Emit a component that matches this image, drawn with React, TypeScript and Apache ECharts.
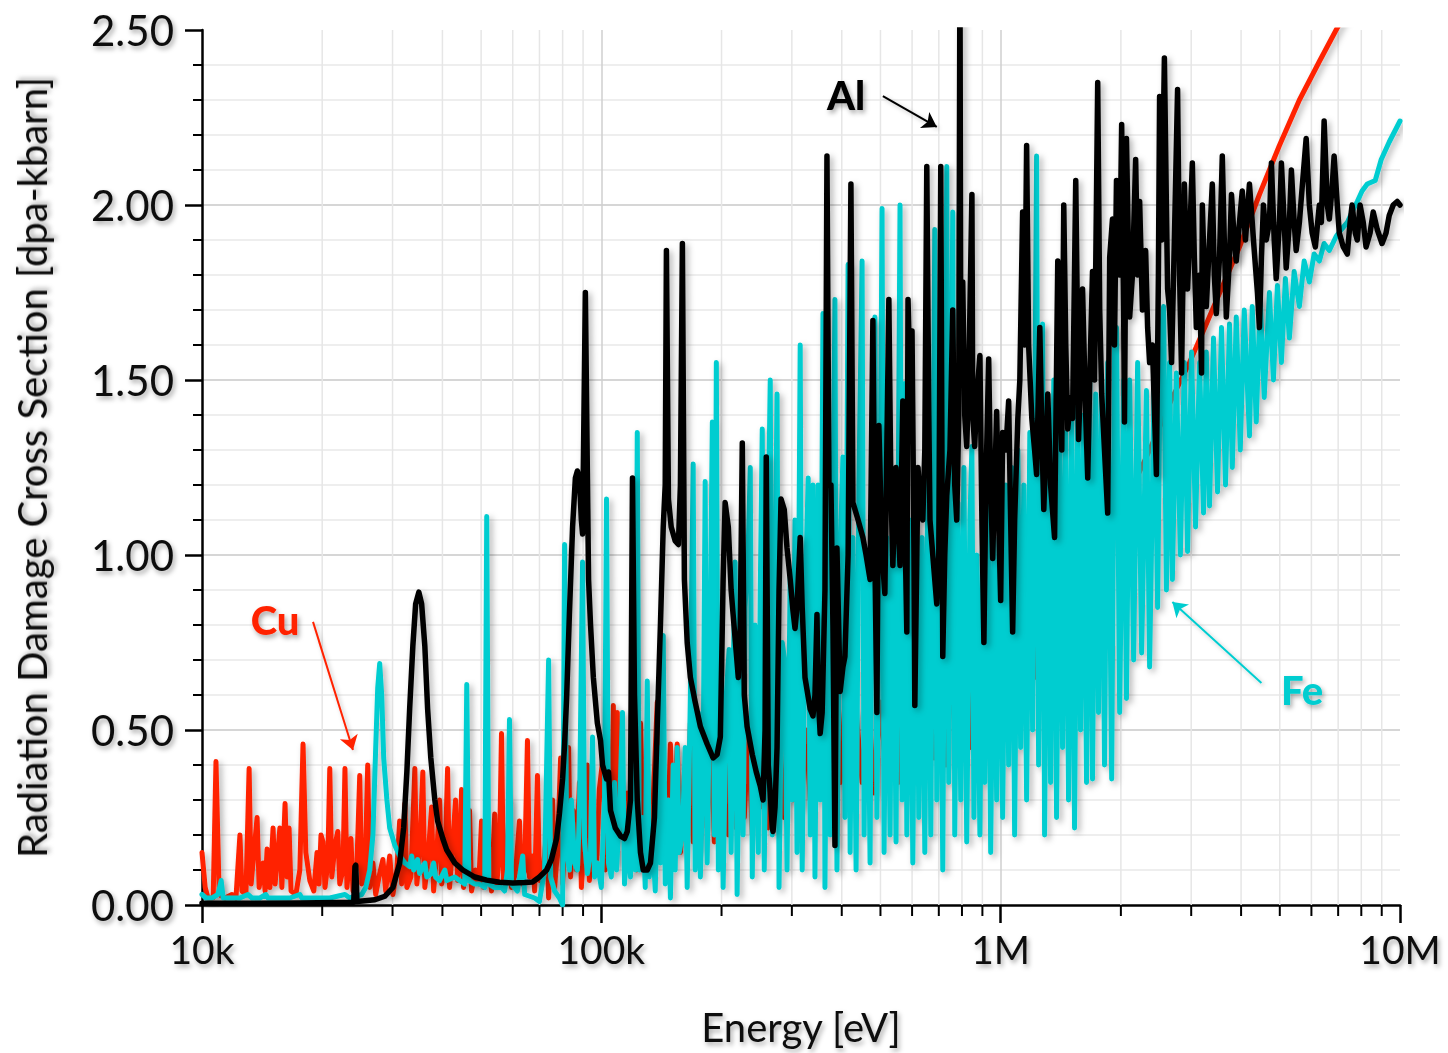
import React, { useEffect, useRef } from "react";
import * as echarts from "echarts";

// Energies are stored as log10(E / eV); values are in dpa-kbarn.
const CU: number[][] = [
  [4.000,0.15],[4.008,0.05],[4.015,0.02],[4.028,0.02],[4.035,0.41],[4.043,0.03],[4.058,0.02],[4.075,0.03],[4.085,0.02],[4.095,0.20],
  [4.100,0.04],[4.110,0.03],[4.118,0.39],[4.123,0.06],[4.130,0.15],[4.138,0.25],[4.143,0.05],[4.153,0.12],[4.158,0.04],[4.163,0.16],
  [4.170,0.05],[4.178,0.22],[4.183,0.06],[4.190,0.15],[4.195,0.22],[4.200,0.05],[4.208,0.29],[4.213,0.08],[4.218,0.22],[4.223,0.04],
  [4.235,0.03],[4.245,0.10],[4.253,0.46],[4.260,0.15],[4.270,0.07],[4.280,0.04],[4.288,0.15],[4.293,0.06],[4.298,0.20],[4.303,0.18],
  [4.308,0.05],[4.315,0.12],[4.320,0.39],[4.325,0.08],[4.333,0.17],[4.340,0.21],[4.345,0.06],[4.353,0.10],[4.358,0.39],[4.363,0.05],
  [4.373,0.19],[4.378,0.04],[4.388,0.12],[4.395,0.37],[4.400,0.06],[4.408,0.08],[4.415,0.40],[4.420,0.05],[4.428,0.12],[4.435,0.03],
  [4.445,0.09],[4.453,0.13],[4.460,0.04],[4.470,0.14],[4.478,0.03],[4.488,0.10],[4.495,0.24],[4.500,0.06],[4.508,0.29],[4.513,0.05],
  [4.523,0.08],[4.533,0.39],[4.538,0.06],[4.545,0.15],[4.553,0.38],[4.558,0.05],[4.565,0.12],[4.575,0.28],[4.580,0.04],[4.588,0.15],
  [4.595,0.30],[4.600,0.06],[4.608,0.10],[4.615,0.39],[4.620,0.05],[4.628,0.18],[4.635,0.30],[4.640,0.07],[4.645,0.12],[4.650,0.33],
  [4.655,0.05],[4.663,0.14],[4.670,0.27],[4.675,0.04],[4.685,0.10],[4.693,0.06],[4.700,0.24],[4.705,0.05],[4.713,0.08],[4.720,0.13],
  [4.725,0.04],[4.733,0.26],[4.738,0.06],[4.745,0.15],[4.750,0.49],[4.755,0.07],[4.763,0.12],[4.770,0.30],[4.775,0.05],[4.785,0.09],
  [4.795,0.24],[4.800,0.06],[4.808,0.10],[4.815,0.47],[4.820,0.08],[4.828,0.14],[4.833,0.04],[4.840,0.37],[4.845,0.07],[4.855,0.10],
  [4.863,0.22],[4.868,0.02],[4.878,0.30],[4.883,0.05],[4.890,0.15],[4.898,0.42],[4.903,0.06],[4.910,0.19],[4.918,0.45],[4.923,0.08],
  [4.930,0.27],[4.938,0.10],[4.945,0.35],[4.950,0.05],[4.958,0.20],[4.965,0.40],[4.970,0.07],[4.980,0.25],[4.988,0.11],[4.995,0.33],
  [5.005,0.43],[5.010,0.10],[5.018,0.30],[5.023,0.15],[5.030,0.57],[5.035,0.12],[5.040,0.55],[5.045,0.20],[5.053,0.35],[5.060,0.12],
  [5.065,0.32],[5.073,0.18],[5.080,0.45],[5.088,0.10],[5.098,0.52],[5.105,0.15],[5.113,0.38],[5.120,0.12],[5.130,0.30],[5.140,0.58],
  [5.148,0.20],[5.158,0.35],[5.165,0.14],[5.173,0.46],[5.180,0.20],[5.190,0.46],[5.198,0.15],[5.208,0.38],[5.215,0.20],[5.223,0.52],
  [5.230,0.18],[5.240,0.40],[5.248,0.16],[5.258,0.45],[5.265,0.22],[5.275,0.50],[5.283,0.18],[5.293,0.60],[5.300,0.25],[5.310,0.42],
  [5.318,0.20],[5.330,0.54],[5.338,0.22],[5.348,0.45],[5.358,0.25],[5.368,0.50],[5.378,0.20],[5.388,0.55],[5.398,0.28],[5.408,0.48],
  [5.418,0.22],[5.428,0.52],[5.438,0.30],[5.448,0.45],[5.458,0.25],[5.470,0.55],[5.480,0.30],[5.490,0.63],[5.500,0.28],[5.513,0.50],
  [5.523,0.30],[5.535,0.55],[5.548,0.32],[5.560,0.50],[5.573,0.25],[5.585,0.55],[5.598,0.35],[5.610,0.58],[5.623,0.30],[5.638,0.55],
  [5.653,0.35],[5.668,0.60],[5.683,0.32],[5.698,0.58],[5.713,0.38],[5.728,0.62],[5.743,0.35],[5.758,0.60],[5.773,0.40],[5.788,0.65],
  [5.803,0.38],[5.818,0.62],[5.833,0.42],[5.848,0.66],[5.863,0.40],[5.878,0.68],[5.893,0.45],[5.908,0.70],[5.923,0.45],[5.938,0.78],
  [5.948,0.62],[5.958,0.80],[5.968,0.55],[5.980,0.72],[5.993,0.50],[6.008,0.74],[6.023,0.55],[6.038,0.77],[6.053,0.60],[6.068,0.80],
  [6.085,0.65],[6.103,0.85],[6.123,0.75],[6.148,0.88],[6.173,0.85],[6.198,0.95],[6.223,0.92],[6.248,1.00],[6.273,1.03],[6.298,1.08],
  [6.320,1.17],[6.373,1.30],[6.430,1.45],[6.473,1.55],[6.515,1.66],[6.560,1.78],[6.598,1.88],[6.648,2.03],[6.698,2.17],[6.748,2.30],
  [6.798,2.41],[6.840,2.50],[6.898,2.62],[7.000,2.85],
];

const FE: number[][] = [
  [4.000,0.03],[4.010,0.02],[4.025,0.02],[4.040,0.03],[4.048,0.07],[4.053,0.02],[4.070,0.02],[4.095,0.02],[4.115,0.03],[4.125,0.02],
  [4.145,0.02],[4.160,0.03],[4.165,0.02],[4.220,0.02],[4.245,0.03],[4.250,0.02],[4.320,0.02],[4.358,0.03],[4.370,0.02],[4.400,0.03],
  [4.410,0.05],[4.420,0.10],[4.428,0.20],[4.435,0.45],[4.440,0.62],[4.445,0.69],[4.450,0.60],[4.455,0.42],[4.463,0.30],[4.470,0.22],
  [4.483,0.17],[4.495,0.14],[4.508,0.12],[4.520,0.11],[4.525,0.14],[4.530,0.10],[4.540,0.13],[4.545,0.09],[4.558,0.12],[4.563,0.08],
  [4.575,0.09],[4.580,0.12],[4.585,0.08],[4.595,0.07],[4.608,0.10],[4.613,0.07],[4.633,0.08],[4.645,0.07],[4.658,0.06],[4.663,0.63],
  [4.668,0.07],[4.683,0.06],[4.695,0.06],[4.708,0.05],[4.713,1.11],[4.718,0.06],[4.733,0.05],[4.750,0.05],[4.758,0.04],[4.765,0.10],
  [4.770,0.53],[4.775,0.06],[4.790,0.04],[4.803,0.14],[4.808,0.03],[4.833,0.02],[4.845,0.01],[4.858,0.10],[4.868,0.70],[4.873,0.08],
  [4.883,0.04],[4.895,0.02],[4.903,0.00],[4.908,1.03],[4.913,0.15],[4.920,0.10],[4.925,0.30],[4.933,0.12],[4.940,0.10],[4.945,0.25],
  [4.953,0.98],[4.958,0.18],[4.965,0.09],[4.973,0.15],[4.978,0.48],[4.983,0.08],[4.990,0.12],[5.000,0.05],[5.008,0.30],[5.013,1.16],
  [5.018,0.12],[5.025,0.08],[5.033,0.35],[5.038,0.10],[5.045,0.25],[5.053,0.55],[5.058,0.06],[5.065,0.20],[5.073,0.08],[5.080,0.40],
  [5.085,0.10],[5.090,1.35],[5.095,0.10],[5.103,0.25],[5.110,0.05],[5.115,0.64],[5.120,0.08],[5.128,0.20],[5.135,0.04],[5.143,0.45],
  [5.148,0.12],[5.155,0.77],[5.160,0.06],[5.168,0.30],[5.173,0.02],[5.180,0.40],[5.185,0.10],[5.190,0.45],[5.195,0.15],[5.203,0.20],
  [5.210,0.45],[5.215,0.05],[5.223,0.60],[5.230,1.26],[5.235,0.10],[5.243,0.55],[5.248,0.08],[5.255,0.40],[5.260,1.21],[5.265,0.12],
  [5.270,0.50],[5.278,1.38],[5.283,0.20],[5.288,1.55],[5.293,0.10],[5.300,0.70],[5.305,0.05],[5.313,0.60],[5.320,0.73],[5.325,0.15],
  [5.330,0.65],[5.335,0.98],[5.340,0.03],[5.348,0.70],[5.355,0.20],[5.360,0.85],[5.368,1.03],[5.373,1.25],[5.378,0.08],[5.385,0.80],
  [5.393,0.15],[5.398,0.90],[5.403,1.36],[5.408,0.10],[5.415,0.85],[5.423,1.50],[5.428,0.20],[5.435,0.90],[5.440,1.46],[5.445,0.05],
  [5.453,0.75],[5.460,0.69],[5.465,0.10],[5.473,0.95],[5.478,0.30],[5.485,1.10],[5.490,0.15],[5.498,1.60],[5.503,0.10],[5.510,0.85],
  [5.518,1.22],[5.523,0.20],[5.530,1.20],[5.535,0.08],[5.543,1.20],[5.548,0.30],[5.555,1.69],[5.560,0.05],[5.568,1.20],[5.573,0.20],
  [5.580,1.10],[5.585,1.73],[5.590,0.10],[5.598,1.00],[5.605,1.28],[5.610,0.25],[5.618,1.83],[5.623,0.15],[5.630,1.05],[5.638,0.10],
  [5.645,1.20],[5.653,1.84],[5.658,0.20],[5.665,1.00],[5.673,0.12],[5.678,1.15],[5.685,1.68],[5.690,0.25],[5.698,1.10],[5.703,1.99],
  [5.708,0.15],[5.715,1.05],[5.723,0.20],[5.730,1.20],[5.738,0.18],[5.748,2.00],[5.753,0.30],[5.760,1.49],[5.765,0.20],[5.773,1.10],
  [5.780,0.12],[5.788,1.20],[5.795,0.25],[5.803,1.05],[5.810,0.15],[5.818,1.30],[5.825,0.20],[5.835,1.93],[5.840,0.30],[5.848,1.20],
  [5.855,0.10],[5.865,2.11],[5.870,0.35],[5.880,1.98],[5.885,0.20],[5.893,1.15],[5.900,0.30],[5.908,1.25],[5.915,0.18],[5.923,1.10],
  [5.928,1.31],[5.933,0.25],[5.940,1.00],[5.948,0.20],[5.955,1.10],[5.960,0.35],[5.968,1.20],[5.975,0.15],[5.983,1.05],[5.990,0.30],
  [5.998,1.15],[6.005,0.25],[6.013,1.20],[6.020,0.40],[6.028,1.25],[6.035,0.20],[6.043,1.30],[6.050,0.45],[6.058,1.20],[6.065,0.30],
  [6.073,1.35],[6.080,0.50],[6.090,2.14],[6.095,0.40],[6.105,1.66],[6.110,0.20],[6.118,1.40],[6.125,0.35],[6.133,1.50],[6.140,0.25],
  [6.148,1.40],[6.155,0.45],[6.163,1.35],[6.170,0.30],[6.178,1.40],[6.185,0.22],[6.193,1.45],[6.200,0.50],[6.208,1.40],[6.215,0.35],
  [6.223,1.50],[6.230,0.36],[6.238,1.46],[6.245,0.55],[6.253,1.50],[6.260,0.40],[6.268,1.55],[6.278,0.36],[6.285,1.60],[6.290,1.65],
  [6.298,0.55],[6.308,1.50],[6.315,0.59],[6.323,1.50],[6.333,0.70],[6.343,1.55],[6.353,0.72],[6.365,1.47],[6.373,0.68],[6.385,1.55],
  [6.393,0.85],[6.400,1.60],[6.408,1.71],[6.415,0.90],[6.423,1.55],[6.430,0.93],[6.440,1.52],[6.450,1.00],[6.460,1.55],[6.468,1.01],
  [6.478,1.58],[6.488,1.08],[6.498,1.55],[6.508,1.12],[6.515,1.58],[6.523,1.14],[6.533,1.62],[6.543,1.18],[6.553,1.65],[6.563,1.20],
  [6.573,1.66],[6.580,1.25],[6.590,1.68],[6.600,1.30],[6.610,1.70],[6.623,1.34],[6.630,1.71],[6.640,1.38],[6.650,1.73],[6.660,1.45],
  [6.673,1.75],[6.683,1.50],[6.693,1.77],[6.703,1.55],[6.713,1.79],[6.723,1.62],[6.735,1.81],[6.748,1.71],[6.760,1.84],[6.773,1.78],
  [6.785,1.86],[6.798,1.84],[6.810,1.89],[6.823,1.87],[6.840,1.91],[6.853,1.93],[6.868,1.95],[6.880,1.98],[6.893,2.01],[6.905,2.04],
  [6.918,2.06],[6.938,2.07],[6.953,2.13],[6.973,2.18],[7.000,2.24],
];

const AL: number[][] = [
  [4.000,0.005],[4.120,0.005],[4.245,0.006],[4.380,0.008],[4.383,0.11],[4.385,0.114],[4.388,0.01],[4.408,0.012],[4.433,0.015],[4.458,0.025],
  [4.478,0.05],[4.495,0.12],[4.505,0.22],[4.513,0.38],[4.520,0.56],[4.528,0.74],[4.535,0.86],[4.543,0.894],[4.550,0.86],[4.558,0.74],
  [4.565,0.56],[4.573,0.42],[4.583,0.30],[4.590,0.24],[4.603,0.19],[4.613,0.157],[4.633,0.12],[4.653,0.10],[4.683,0.08],[4.713,0.071],
  [4.745,0.065],[4.778,0.063],[4.808,0.064],[4.828,0.066],[4.845,0.08],[4.863,0.10],[4.875,0.13],[4.888,0.19],[4.895,0.26],[4.903,0.36],
  [4.908,0.46],[4.913,0.59],[4.920,0.83],[4.928,1.08],[4.935,1.22],[4.940,1.24],[4.945,1.22],[4.950,1.10],[4.953,1.06],[4.960,1.75],
  [4.968,0.93],[4.973,0.80],[4.980,0.65],[4.990,0.52],[4.998,0.47],[5.003,0.40],[5.013,0.36],[5.018,0.38],[5.023,0.27],[5.035,0.22],
  [5.048,0.197],[5.058,0.19],[5.065,0.21],[5.073,0.30],[5.078,1.22],[5.083,0.60],[5.090,0.30],[5.098,0.15],[5.105,0.10],[5.115,0.10],
  [5.123,0.12],[5.133,0.25],[5.140,0.51],[5.148,0.80],[5.155,1.08],[5.160,1.20],[5.163,1.87],[5.168,1.16],[5.175,1.08],[5.185,1.04],
  [5.193,1.03],[5.198,1.20],[5.203,1.89],[5.208,0.93],[5.215,0.75],[5.223,0.65],[5.235,0.58],[5.248,0.51],[5.265,0.46],[5.280,0.42],
  [5.290,0.43],[5.298,0.48],[5.305,0.93],[5.310,1.15],[5.318,1.08],[5.325,0.90],[5.330,0.83],[5.338,0.72],[5.343,0.65],[5.348,0.80],
  [5.353,1.32],[5.358,0.60],[5.365,0.51],[5.378,0.43],[5.388,0.38],[5.398,0.34],[5.405,0.30],[5.410,0.50],[5.413,1.28],[5.418,0.40],
  [5.423,0.32],[5.428,0.22],[5.430,0.21],[5.435,0.28],[5.440,0.45],[5.445,0.90],[5.450,1.16],[5.458,1.13],[5.465,1.02],[5.473,0.93],
  [5.480,0.84],[5.485,0.79],[5.490,0.85],[5.498,1.05],[5.503,0.85],[5.510,0.65],[5.523,0.56],[5.530,0.54],[5.535,0.60],[5.540,0.83],
  [5.543,0.60],[5.548,0.49],[5.553,0.55],[5.555,0.65],[5.560,0.90],[5.565,2.14],[5.570,1.20],[5.575,1.20],[5.580,0.80],[5.585,0.17],
  [5.590,1.02],[5.598,0.61],[5.605,0.68],[5.610,0.71],[5.618,1.00],[5.625,2.06],[5.630,1.15],[5.643,1.10],[5.655,1.05],[5.663,1.00],
  [5.673,0.93],[5.680,1.67],[5.685,1.00],[5.690,0.55],[5.695,1.37],[5.703,1.00],[5.710,0.89],[5.720,1.73],[5.725,1.20],[5.730,0.97],
  [5.738,1.25],[5.743,1.10],[5.748,0.97],[5.755,1.44],[5.760,1.10],[5.765,0.78],[5.768,1.73],[5.773,1.50],[5.778,1.64],[5.783,1.00],
  [5.785,0.57],[5.793,1.25],[5.798,1.15],[5.805,1.10],[5.810,1.30],[5.815,2.11],[5.820,1.40],[5.823,1.10],[5.830,1.00],[5.840,0.86],
  [5.845,1.00],[5.850,2.11],[5.855,0.71],[5.860,1.00],[5.865,1.17],[5.873,1.30],[5.880,1.70],[5.885,1.20],[5.890,1.10],[5.895,1.40],
  [5.898,2.70],[5.900,1.60],[5.905,1.78],[5.910,1.40],[5.915,1.31],[5.920,1.50],[5.928,2.03],[5.930,1.40],[5.935,1.31],[5.940,1.45],
  [5.948,1.57],[5.953,1.10],[5.958,0.75],[5.963,1.20],[5.970,1.56],[5.975,1.20],[5.980,0.99],[5.985,1.20],[5.990,1.41],[5.995,1.10],
  [6.000,0.87],[6.005,1.35],[6.013,1.30],[6.020,1.44],[6.025,1.10],[6.030,0.78],[6.035,1.10],[6.043,1.39],[6.048,1.50],[6.055,1.98],
  [6.060,1.60],[6.065,2.17],[6.070,1.60],[6.078,1.39],[6.085,1.30],[6.090,1.23],[6.098,1.65],[6.103,1.35],[6.108,1.13],[6.113,1.30],
  [6.118,1.46],[6.125,1.20],[6.135,1.05],[6.143,1.84],[6.148,1.50],[6.153,1.30],[6.158,2.00],[6.163,1.60],[6.168,1.36],[6.175,1.45],
  [6.180,1.39],[6.188,2.07],[6.193,1.60],[6.195,1.33],[6.200,1.50],[6.205,1.76],[6.213,1.40],[6.218,1.22],[6.223,1.50],[6.230,1.81],
  [6.235,1.50],[6.243,2.35],[6.248,1.70],[6.253,1.46],[6.260,1.30],[6.268,1.12],[6.273,1.85],[6.280,1.96],[6.285,1.60],[6.290,2.07],
  [6.298,1.80],[6.303,2.23],[6.308,1.70],[6.310,1.38],[6.315,2.19],[6.323,1.68],[6.330,1.80],[6.338,2.13],[6.343,1.80],[6.348,2.01],
  [6.355,1.70],[6.363,1.87],[6.368,1.65],[6.373,1.55],[6.380,1.60],[6.390,1.23],[6.395,1.80],[6.398,2.31],[6.403,1.90],[6.410,2.42],
  [6.415,2.00],[6.418,1.76],[6.423,1.70],[6.428,1.55],[6.435,1.90],[6.443,2.33],[6.448,1.80],[6.453,1.52],[6.460,2.06],[6.465,1.85],
  [6.468,1.76],[6.473,1.90],[6.480,2.12],[6.485,1.85],[6.490,1.65],[6.498,1.80],[6.503,1.52],[6.505,2.00],[6.510,1.80],[6.515,1.71],
  [6.523,1.90],[6.530,2.06],[6.535,1.80],[6.540,1.69],[6.548,1.85],[6.555,2.14],[6.560,1.90],[6.565,1.68],[6.573,1.85],[6.578,2.03],
  [6.585,1.90],[6.590,1.84],[6.598,1.95],[6.605,2.04],[6.613,1.90],[6.623,2.06],[6.630,1.95],[6.635,1.87],[6.643,1.75],[6.648,1.65],
  [6.653,1.85],[6.658,2.00],[6.665,1.90],[6.673,1.95],[6.678,2.12],[6.685,1.90],[6.690,1.79],[6.698,1.95],[6.703,2.12],[6.710,1.95],
  [6.715,1.82],[6.723,1.95],[6.728,2.10],[6.735,1.95],[6.740,1.87],[6.748,1.95],[6.755,2.05],[6.765,2.19],[6.773,2.00],[6.780,1.92],
  [6.788,1.88],[6.798,2.00],[6.803,1.95],[6.810,2.24],[6.818,2.00],[6.823,1.96],[6.830,2.05],[6.835,2.14],[6.843,2.00],[6.848,1.92],
  [6.858,1.88],[6.868,1.86],[6.875,1.95],[6.880,2.00],[6.888,1.92],[6.893,1.90],[6.900,2.00],[6.908,1.95],[6.915,1.88],[6.925,1.92],
  [6.933,1.98],[6.943,1.93],[6.955,1.89],[6.965,1.92],[6.973,1.97],[6.983,2.00],[6.993,2.01],[7.000,2.00],
];

// minor log ticks (eV)
const MINOR_TICKS = [
  20000, 30000, 40000, 50000, 60000, 70000, 80000, 90000,
  200000, 300000, 400000, 500000, 600000, 700000, 800000, 900000,
  2000000, 3000000, 4000000, 5000000, 6000000, 7000000, 8000000, 9000000,
];

// annotations: [label, labelLogE, labelY, arrowFromLogE, arrowFromY, arrowToLogE, arrowToY]
const CU_NOTE = ["Cu", 4.183, 0.814, 4.278, 0.809, 4.378, 0.443];
const AL_NOTE = ["Al", 5.613, 2.314, 5.705, 2.311, 5.840, 2.223];
const FE_NOTE = ["Fe", 6.755, 0.614, 6.653, 0.634, 6.430, 0.866];

const FONT = "Lato, 'Open Sans', sans-serif";
const SHADOW = { textShadowColor: "rgba(0,0,0,0.35)", textShadowBlur: 5, textShadowOffsetX: 2, textShadowOffsetY: 3 };

const toData = (arr: number[][]) => arr.map(([l, v]) => [Math.pow(10, l), v]);

function note(n: any[], color: string) {
  const [text, lx, ly, fx, fy, tx, ty] = n;
  return {
    markPoint: {
      silent: true,
      symbol: "circle",
      symbolSize: 0,
      data: [{ coord: [Math.pow(10, lx), ly] }],
      label: {
        show: true,
        position: "inside",
        formatter: text,
        fontFamily: FONT,
        fontSize: 40,
        fontWeight: 900,
        color,
        ...SHADOW,
      },
    },
    markLine: {
      silent: true,
      symbol: ["none", "arrow"],
      symbolSize: 14,
      label: { show: false },
      lineStyle: { color, width: 2, type: "solid", shadowColor: "rgba(0,0,0,0.25)", shadowBlur: 4, shadowOffsetX: 2, shadowOffsetY: 2 },
      data: [[{ coord: [Math.pow(10, fx), fy] }, { coord: [Math.pow(10, tx), ty] }]],
    },
  };
}

function lineSeries(name: string, data: number[][], color: string, width: number, z: number, n: any[]) {
  return {
    name,
    type: "line",
    data: toData(data),
    z,
    showSymbol: false,
    symbol: "none",
    silent: true,
    clip: true,
    emphasis: { disabled: true },
    lineStyle: { color, width, shadowColor: "rgba(0,0,0,0.3)", shadowBlur: 6, shadowOffsetX: 3, shadowOffsetY: 3, join: "round", cap: "round" },
    ...note(n, color),
  };
}

export default function App() {
  const ref = useRef<HTMLDivElement>(null);
  useEffect(() => {
    if (!ref.current) return;
    const chart = echarts.init(ref.current, undefined, { renderer: "svg" });
    const option: any = {
      animation: false,
      backgroundColor: "#ffffff",
      textStyle: { fontFamily: FONT },
      grid: { left: 202, top: 30, width: 1198, height: 875, containLabel: false },
      xAxis: {
        type: "log",
        logBase: 10,
        min: 10000,
        max: 10000000,
        name: "Energy [eV]",
        nameLocation: "middle",
        nameGap: 102,
        nameTextStyle: { fontFamily: FONT, fontSize: 40, color: "#111", ...SHADOW },
        axisLine: { show: true, onZero: false, lineStyle: { color: "#000", width: 2.5 } },
        axisTick: { show: true, length: 18, lineStyle: { color: "#000", width: 2.5 } },
        axisLabel: {
          fontFamily: FONT,
          fontSize: 39,
          color: "#111",
          margin: 24,
          ...SHADOW,
          formatter: (v: number) => {
            const p = Math.round(Math.log10(v));
            return ({ 4: "10k", 5: "100k", 6: "1M", 7: "10M" } as any)[p] ?? "";
          },
        },
        splitLine: { show: true, showMinLine: false, showMaxLine: false, lineStyle: { color: "#cfcfcf", width: 1.5 } },
      },
      yAxis: {
        type: "value",
        min: 0,
        max: 2.5,
        interval: 0.5,
        name: "Radiation Damage Cross Section [dpa-kbarn]",
        nameLocation: "middle",
        nameRotate: 90,
        nameGap: 150,
        nameTextStyle: { fontFamily: FONT, fontSize: 40, color: "#111", ...SHADOW },
        axisLine: { show: true, lineStyle: { color: "#000", width: 2.5 } },
        axisTick: { show: true, length: 17, lineStyle: { color: "#000", width: 2.5 } },
        minorTick: { show: true, splitNumber: 5, length: 9, lineStyle: { color: "#000", width: 2 } },
        axisLabel: {
          fontFamily: FONT,
          fontSize: 42,
          color: "#111",
          margin: 28,
          ...SHADOW,
          formatter: (v: number) => v.toFixed(2),
        },
        splitLine: { show: true, showMinLine: false, showMaxLine: false, lineStyle: { color: "#c8c8c8", width: 1.5 } },
        minorSplitLine: { show: true, lineStyle: { color: "#e8e8e8", width: 1.5 } },
      },
      series: [
        {
          type: "custom",
          z: 1,
          silent: true,
          clip: false,
          data: MINOR_TICKS.map((v) => [v, 0]),
          renderItem: (params: any, api: any) => {
            const v = api.value(0);
            const top = api.coord([v, 2.5]);
            const bot = api.coord([v, 0]);
            return {
              type: "group",
              children: [
                { type: "line", shape: { x1: bot[0], y1: top[1], x2: bot[0], y2: bot[1] }, style: { stroke: "#e6e6e6", lineWidth: 1.5 } },
                { type: "line", shape: { x1: bot[0], y1: bot[1], x2: bot[0], y2: bot[1] + 11 }, style: { stroke: "#000", lineWidth: 2 } },
              ],
            };
          },
        },
        lineSeries("Cu", CU, "#ff2200", 5, 2, CU_NOTE),
        lineSeries("Fe", FE, "#00cdd0", 5, 3, FE_NOTE),
        lineSeries("Al", AL, "#000000", 5.5, 4, AL_NOTE),
      ],
    };
    chart.setOption(option);
    return () => chart.dispose();
  }, []);
  return <div ref={ref} style={{ position: "absolute", left: 0, top: 0, width: 1448, height: 1053 }} />;
}
